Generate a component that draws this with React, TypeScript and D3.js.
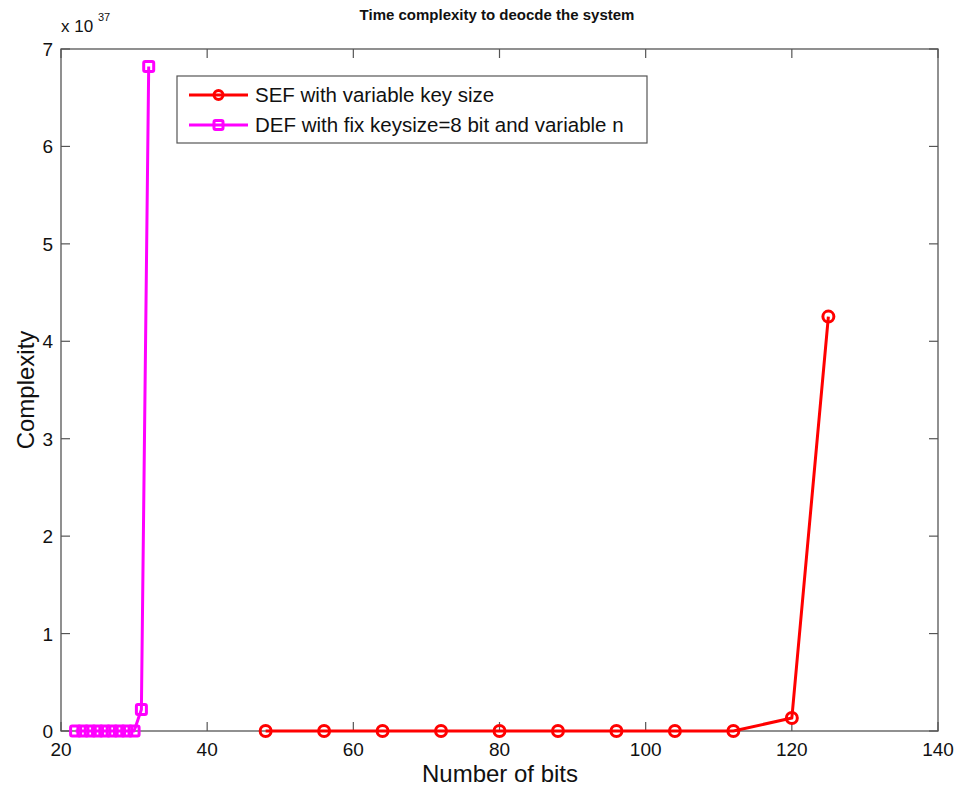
import React from "react";
import * as d3 from "d3";

const sefBits = [48, 56, 64, 72, 80, 88, 96, 104, 112, 120, 125];
const sefValues = sefBits.map((b) => Math.pow(2, b) / 1e37);
const defBits = [22, 23, 24, 25, 26, 27, 28, 29, 30, 31, 32];
const defValues = [0, 0, 0, 0, 0, 0, 0, 0, 0, 0.22, 6.82];
const xTicks = [20, 40, 60, 80, 100, 120, 140];
const yTicks = [0, 1, 2, 3, 4, 5, 6, 7];
const legendLabels = ["SEF with variable key size", "DEF with fix keysize=8 bit and variable n"];

const W = 958, H = 789;
const L = 61, R = 938, T = 49, B = 731;

export default function App() {
  const x = d3.scaleLinear().domain([20, 140]).range([L, R]);
  const y = d3.scaleLinear().domain([0, 7]).range([B, T]);
  const line = d3.line<[number, number]>().x((d) => x(d[0])).y((d) => y(d[1]));
  const sef: [number, number][] = sefBits.map((b, i) => [b, sefValues[i]]);
  const def: [number, number][] = defBits.map((b, i) => [b, defValues[i]]);
  const font = "Arial, 'Liberation Sans', Helvetica, sans-serif";
  const axisColor = "#555";
  return (
    <svg width={W} height={H} style={{ position: "absolute", left: 0, top: 0, background: "#fff" }} fontFamily={font}>
      <rect x={0} y={0} width={W} height={H} fill="#fff" />
      {/* frame */}
      <rect x={L} y={T} width={R - L} height={B - T} fill="none" stroke={axisColor} strokeWidth={1.3} />
      {xTicks.map((t) => (
        <g key={"x" + t}>
          <line x1={x(t)} x2={x(t)} y1={B} y2={B - 9} stroke={axisColor} strokeWidth={1.2} />
          <line x1={x(t)} x2={x(t)} y1={T} y2={T + 9} stroke={axisColor} strokeWidth={1.2} />
          <text x={x(t)} y={B + 25} textAnchor="middle" fontSize={19} fill="#111">{t}</text>
        </g>
      ))}
      {yTicks.map((t) => (
        <g key={"y" + t}>
          <line x1={L} x2={L + 9} y1={y(t)} y2={y(t)} stroke={axisColor} strokeWidth={1.2} />
          <line x1={R} x2={R - 9} y1={y(t)} y2={y(t)} stroke={axisColor} strokeWidth={1.2} />
          <text x={L - 8} y={y(t) + 7} textAnchor="end" fontSize={19} fill="#111">{t}</text>
        </g>
      ))}
      <text x={61} y={32} fontSize={17} fill="#111">x 10</text>
      <text x={98} y={21} fontSize={11} fill="#111">37</text>
      <text x={497} y={20} textAnchor="middle" fontSize={15} fontWeight="bold" fill="#111">Time complexity to deocde the system</text>
      <text x={500} y={782} textAnchor="middle" fontSize={24} fill="#111">Number of bits</text>
      <text transform={`translate(34,${(T + B) / 2}) rotate(-90)`} textAnchor="middle" fontSize={24} fill="#111">Complexity</text>

      {/* series */}
      <path d={line(sef) || ""} fill="none" stroke="#ff0000" strokeWidth={3} strokeLinejoin="round" />
      {sef.map((d, i) => (
        <circle key={"s" + i} cx={x(d[0])} cy={y(d[1])} r={5.5} fill="none" stroke="#ff0000" strokeWidth={3} />
      ))}
      <path d={line(def) || ""} fill="none" stroke="#ff00ff" strokeWidth={3} strokeLinejoin="round" />
      {def.map((d, i) => (
        <rect key={"d" + i} x={x(d[0]) - 5} y={y(d[1]) - 5} width={10} height={10} rx={1.5} fill="none" stroke="#ff00ff" strokeWidth={3} />
      ))}

      {/* legend */}
      <rect x={177} y={76} width={470} height={67} fill="#fff" stroke={axisColor} strokeWidth={1.2} />
      <line x1={189} x2={248} y1={95} y2={95} stroke="#ff0000" strokeWidth={3} />
      <circle cx={218.5} cy={95} r={4.5} fill="none" stroke="#ff0000" strokeWidth={3} />
      <text x={255} y={102} fontSize={20.5} fill="#111">{legendLabels[0]}</text>
      <line x1={189} x2={248} y1={125} y2={125} stroke="#ff00ff" strokeWidth={3} />
      <rect x={214} y={120.5} width={9} height={9} rx={1.5} fill="none" stroke="#ff00ff" strokeWidth={3} />
      <text x={255} y={132} fontSize={20.5} fill="#111">{legendLabels[1]}</text>
    </svg>
  );
}
